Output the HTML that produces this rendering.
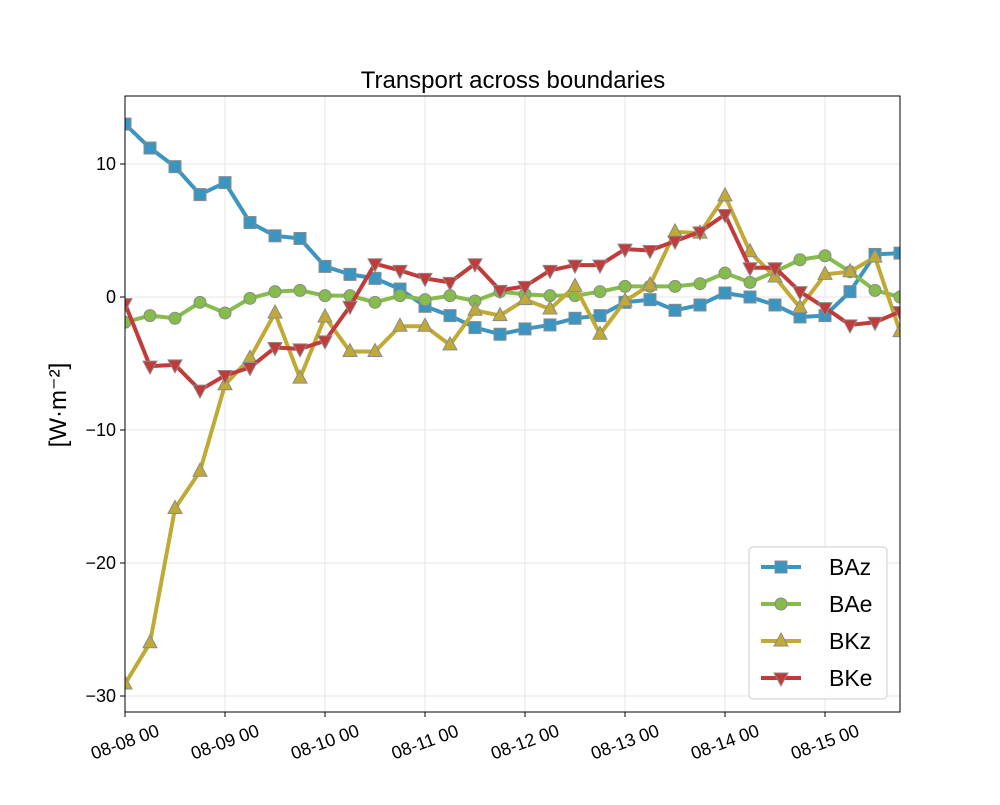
<!DOCTYPE html>
<html><head><meta charset="utf-8"><style>
body{margin:0;background:#fff;}
svg text{font-family:"Liberation Sans",sans-serif;}
</style></head><body>
<svg id="chart" width="1000" height="800"></svg>
<script>
const categories = ["08-08 00","08-09 00","08-10 00","08-11 00","08-12 00","08-13 00","08-14 00","08-15 00"];
const yTicks = [10, 0, -10, -20, -30];
const seriesNames = ["BAz","BAe","BKz","BKe"];
const BAz = [13.0,11.2,9.8,7.7,8.6,5.6,4.6,4.4,2.3,1.7,1.4,0.6,-0.7,-1.4,-2.3,-2.8,-2.4,-2.1,-1.6,-1.4,-0.4,-0.2,-1.0,-0.6,0.3,0.0,-0.6,-1.5,-1.4,0.4,3.2,3.3];
const BAe = [-1.9,-1.4,-1.6,-0.4,-1.2,-0.1,0.4,0.5,0.1,0.1,-0.4,0.1,-0.2,0.1,-0.3,0.4,0.2,0.1,0.1,0.4,0.8,0.8,0.8,1.0,1.8,1.1,1.9,2.8,3.1,1.9,0.5,0.0];
const BKz = [-29.1,-26.0,-15.9,-13.1,-6.6,-4.6,-1.2,-6.1,-1.5,-4.1,-4.1,-2.2,-2.2,-3.6,-1.0,-1.4,-0.2,-0.9,0.8,-2.8,-0.3,0.9,4.9,4.8,7.6,3.4,1.5,-0.8,1.7,1.9,3.0,-2.6];
const BKe = [-0.5,-5.2,-5.1,-7.0,-5.9,-5.3,-3.8,-3.9,-3.3,-0.7,2.5,2.0,1.4,1.1,2.5,0.5,0.8,2.0,2.4,2.4,3.6,3.5,4.2,4.9,6.2,2.2,2.2,0.4,-0.8,-2.1,-1.9,-1.1];

const NS="http://www.w3.org/2000/svg";
const svg=document.getElementById('chart');
const L=125,R=900,T=96,B=712;
const xS=i=>L+i*25;
const yS=v=>297-v*13.3;
function el(t,a,p){const e=document.createElementNS(NS,t);for(const k in a)e.setAttribute(k,a[k]);(p||svg).appendChild(e);return e;}

categories.forEach((c,i)=>{
  const g=el('line',{x1:xS(i*4),x2:xS(i*4),y1:T,y2:B,stroke:'#e6e6e6','stroke-width':1});
  
  
});
yTicks.forEach(v=>{
  const g=el('line',{x1:L,x2:R,y1:yS(v),y2:yS(v),stroke:'#e6e6e6','stroke-width':1});
  
  
});

const colors={BAz:'#3a96c1',BAe:'#86bc4b',BKz:'#c0aa35',BKe:'#c13b3b'};
const dataMap={BAz,BAe,BKz,BKe};
function marker(name,x,y,parent){
  const c=colors[name];
  let m;
  if(name==='BAz') m=el('rect',{x:x-6,y:y-6,width:12,height:12,fill:c,stroke:'#8a8a8a','stroke-width':1},parent);
  else if(name==='BAe') m=el('circle',{cx:x,cy:y,r:6,fill:c,stroke:'#8a8a8a','stroke-width':1},parent);
  else if(name==='BKz') m=el('polygon',{points:`${x},${y-8} ${x-7},${y+5} ${x+7},${y+5}`,fill:c,stroke:'#8a8a8a','stroke-width':1},parent);
  else m=el('polygon',{points:`${x},${y+8} ${x-7},${y-5} ${x+7},${y-5}`,fill:c,stroke:'#8a8a8a','stroke-width':1},parent);
  return m;
}
const clip=el('clipPath',{id:'clip'});el('rect',{x:L,y:T,width:R-L,height:B-T},clip);
seriesNames.forEach(n=>{
  const g=el('g',{'clip-path':'url(#clip)'});
  
  
  const d=dataMap[n];
  const pl=el('polyline',{points:d.map((v,i)=>xS(i)+','+yS(v)).join(' '),fill:'none',stroke:colors[n],'stroke-width':4,'stroke-linejoin':'round'},g);
  
  
  d.forEach((v,i)=>{
    const m=marker(n,xS(i),yS(v),g);
    
    
  });
});

const fr=el('rect',{x:L,y:T,width:R-L,height:B-T,fill:'none',stroke:'#000','stroke-width':1});



yTicks.forEach(v=>{
  el('line',{x1:L-5,x2:L,y1:yS(v),y2:yS(v),stroke:'#000'});
  const t=el('text',{x:L-9,y:yS(v)+6,'text-anchor':'end','font-size':18});
  t.textContent=v<0?'\u2212'+Math.abs(v):String(v);
  
  
});
categories.forEach((c,i)=>{
  const x=xS(i*4);
  el('line',{x1:x,x2:x,y1:B,y2:B+5,stroke:'#000'});
  const t=el('text',{x:x,y:B+36,'text-anchor':'middle','font-size':18,transform:`rotate(-20 ${x} ${B+30})`});
  t.textContent=c;
  
  
});

const title=el('text',{x:513,y:88,'text-anchor':'middle','font-size':24});
title.textContent='Transport across boundaries';


const yl=el('text',{x:66,y:405,'text-anchor':'middle','font-size':24,transform:'rotate(-90 66 405)'});
yl.textContent='[W\u00b7m\u207b\u00b2]';



const lg=el('g',{});


el('rect',{x:749,y:547,width:138,height:152,rx:4,fill:'#fff','fill-opacity':0.85,stroke:'#cccccc'},lg);
seriesNames.forEach((n,i)=>{
  const y=567+i*37;
  const e=el('g',{},lg);
  
  
  el('line',{x1:761,x2:801,y1:y,y2:y,stroke:colors[n],'stroke-width':4},e);
  marker(n,781,y,e);
  const t=el('text',{x:829,y:y+8,'font-size':23},e);
  t.textContent=n;
});
</script>
</body></html>
